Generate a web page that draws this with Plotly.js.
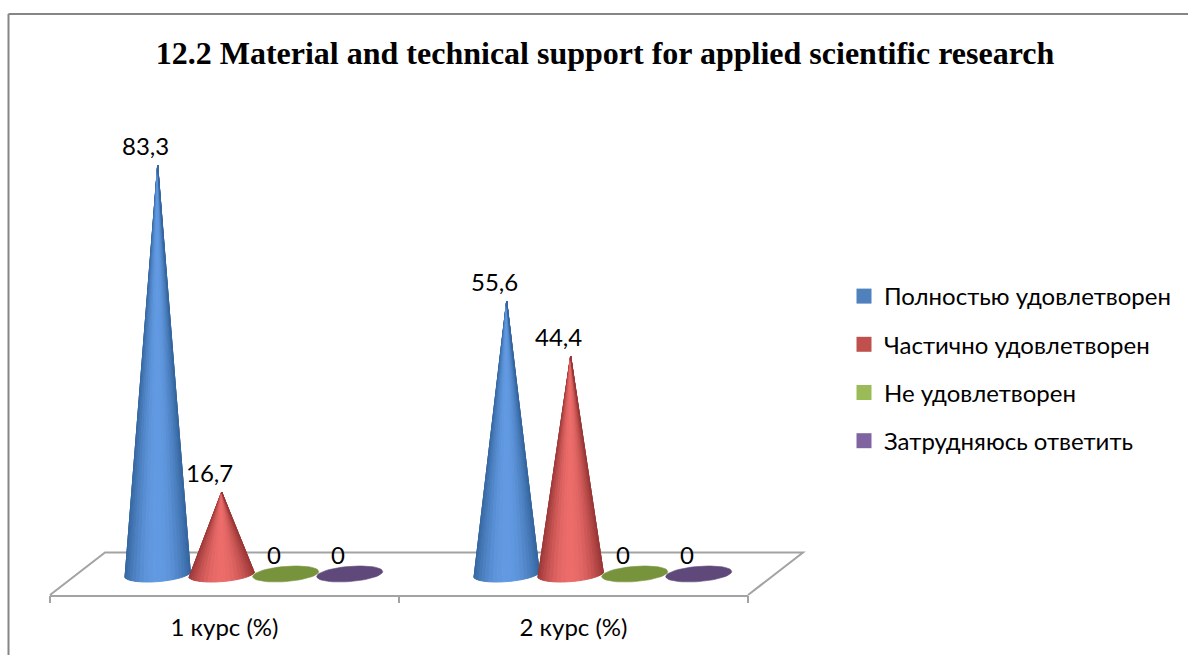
<!DOCTYPE html>
<html>
<head>
<meta charset="utf-8">
<script src="https://cdn.plot.ly/plotly-3.0.1.min.js"></script>
<style>html,body{margin:0;padding:0;background:#fff}#chart{width:1188px;height:655px}</style>
</head>
<body>
<div id="chart"></div>
<script>
var chartTitle = '12.2 Material and technical support for applied scientific research';
var categories = ['1 курс (%)', '2 курс (%)'];
var seriesNames = ['Полностью удовлетворен', 'Частично удовлетворен', 'Не удовлетворен', 'Затрудняюсь ответить'];
var polnostyu = [83.3, 55.6];
var chastichno = [16.7, 44.4];
var neUdovl = [0, 0];
var zatrudnyayus = [0, 0];
var seriesValues = [polnostyu, chastichno, neUdovl, zatrudnyayus];
var legendColors = ['#4f81bd', '#c0504d', '#9bbb59', '#8064a2'];
var edgeColors = ['#35669f', '#9a3736', '#77933c', '#5f497a'];
var lightColors = ['#629ae2', '#ec6c6a', '#77933c', '#5f497a'];

var F = 'Lato, "Noto Sans", sans-serif';
var W = 1188, H = 655, L = 50, R = 748, T = 100, B = 595;
var pxX = (R - L) / 2, pxY = 4.91;
function paperX(p) { return (p - L) / (R - L); }
function paperY(p) { return (B - p) / (B - T); }

var seriesOffsets = [-0.1915, -0.0081, 0.1753, 0.3587];
var baseA = 33 / pxX, baseB = 7.6 / pxY, baseTilt = 2.5 / pxY, STRIPS = 22;

function hex(c) { return [1, 3, 5].map(function (i) { return parseInt(c.substr(i, 2), 16); }); }
function mix(a, b, t) {
  var A = hex(a), B2 = hex(b);
  return 'rgb(' + A.map(function (v, i) { return Math.round(v + (B2[i] - v) * t); }).join(',') + ')';
}
function basePoint(cx, t) {
  return [cx + baseA * Math.cos(t), baseB * Math.sin(t) + baseTilt * Math.cos(t)];
}

var gray = '#a3a3a3', frame = '#868686';

var traces = [];
seriesValues.forEach(function (vals, s) {
  vals.forEach(function (v, c) {
    var cx = c + seriesOffsets[s];
    if (v > 0) {
      for (var i = 0; i < STRIPS; i++) {
        var t0 = Math.PI + Math.PI * i / STRIPS, t1 = Math.PI + Math.PI * (i + 1) / STRIPS;
        var p0 = basePoint(cx, t0), p1 = basePoint(cx, t1);
        var shade = Math.sin(Math.PI * (i + 0.5) / STRIPS);
        var col = mix(edgeColors[s], lightColors[s], Math.pow(shade, 2));
        traces.push({
          type: 'scatter', mode: 'lines', x: [cx, p0[0], p1[0], cx], y: [v, p0[1], p1[1], v],
          fill: 'toself', fillcolor: col, line: { color: col, width: 1 },
          hoverinfo: 'skip', showlegend: false, cliponaxis: false
        });
      }
    } else {
      var ex = [], ey = [];
      for (var k = 0; k <= 48; k++) {
        var p = basePoint(cx, 2 * Math.PI * k / 48);
        ex.push(p[0]); ey.push(p[1]);
      }
      traces.push({
        type: 'scatter', mode: 'lines', x: ex, y: ey, fill: 'toself',
        fillcolor: edgeColors[s], line: { color: edgeColors[s], width: 0.6 },
        hoverinfo: 'skip', showlegend: false, cliponaxis: false
      });
    }
  });
});

seriesNames.forEach(function (name, s) {
  traces.push({
    type: 'scatter', mode: 'markers', name: name, x: [null], y: [null], legendgroup: name,
    marker: { symbol: 'square', size: 15, color: legendColors[s] }, hoverinfo: 'skip'
  });
});
traces.push({ type: 'scatter', mode: 'markers', x: [null], y: [null], xaxis: 'x2', showlegend: false, hoverinfo: 'skip' });

var annotations = [];
seriesValues.forEach(function (vals, s) {
  vals.forEach(function (v, c) {
    annotations.push({
      x: c + seriesOffsets[s], y: v, xref: 'x', yref: 'y', showarrow: false,
      text: String(v).replace('.', ','), xshift: -12, yshift: 20,
      font: { family: F, size: 24, color: '#000' }
    });
  });
});

var shapes = [
  { type: 'path', xref: 'paper', yref: 'paper', layer: 'below', line: { color: gray, width: 2 },
    path: 'M ' + paperX(L) + ' ' + paperY(B) + ' L ' + paperX(105) + ' ' + paperY(552.5) + ' L ' + paperX(803) + ' ' + paperY(552.5) + ' L ' + paperX(R) + ' ' + paperY(B) },
  { type: 'line', xref: 'paper', yref: 'paper', x0: paperX(8.5), x1: paperX(W), y0: paperY(14), y1: paperY(14), line: { color: frame, width: 2 } },
  { type: 'line', xref: 'paper', yref: 'paper', x0: paperX(8.5), x1: paperX(8.5), y0: paperY(14), y1: paperY(H), line: { color: frame, width: 2 } }
];

var yBottom = -21 / pxY;
var layout = {
  width: W, height: H, showlegend: true,
  paper_bgcolor: '#fff', plot_bgcolor: 'rgba(0,0,0,0)',
  margin: { l: L, r: W - R, t: T, b: H - B, pad: 0, autoexpand: false },
  title: { text: '<b>' + chartTitle + '</b>', x: 605 / W, xref: 'container', xanchor: 'center',
    y: 1 - 53 / H, yref: 'container', yanchor: 'middle',
    font: { family: '"Liberation Serif", serif', size: 32, color: '#000' } },
  xaxis: { range: [-0.5, 1.5], tickmode: 'array', tickvals: [0, 1], ticktext: categories, ticks: '',
    showgrid: false, zeroline: false, showline: true, linecolor: gray, linewidth: 2,
    tickfont: { family: F, size: 24, color: '#000' }, ticklabelstandoff: 10 },
  xaxis2: { overlaying: 'x', anchor: 'y', side: 'bottom', range: [-0.5, 1.5], tickmode: 'array',
    tickvals: [-0.5, 0.5, 1.5], ticktext: ['', '', ''], ticks: 'outside', ticklen: 7, tickwidth: 2, tickcolor: gray,
    showgrid: false, zeroline: false, showline: false },
  yaxis: { range: [yBottom, yBottom + (B - T) / pxY], visible: false, fixedrange: true },
  legend: { x: paperX(844), xanchor: 'left', y: paperY(274), yanchor: 'top', tracegroupgap: 14,
    bgcolor: 'rgba(0,0,0,0)', font: { family: F, size: 24, color: '#000' }, itemwidth: 30 },
  annotations: annotations, shapes: shapes
};
Plotly.newPlot('chart', traces, layout, { displayModeBar: false, staticPlot: true });
</script>
</body>
</html>
